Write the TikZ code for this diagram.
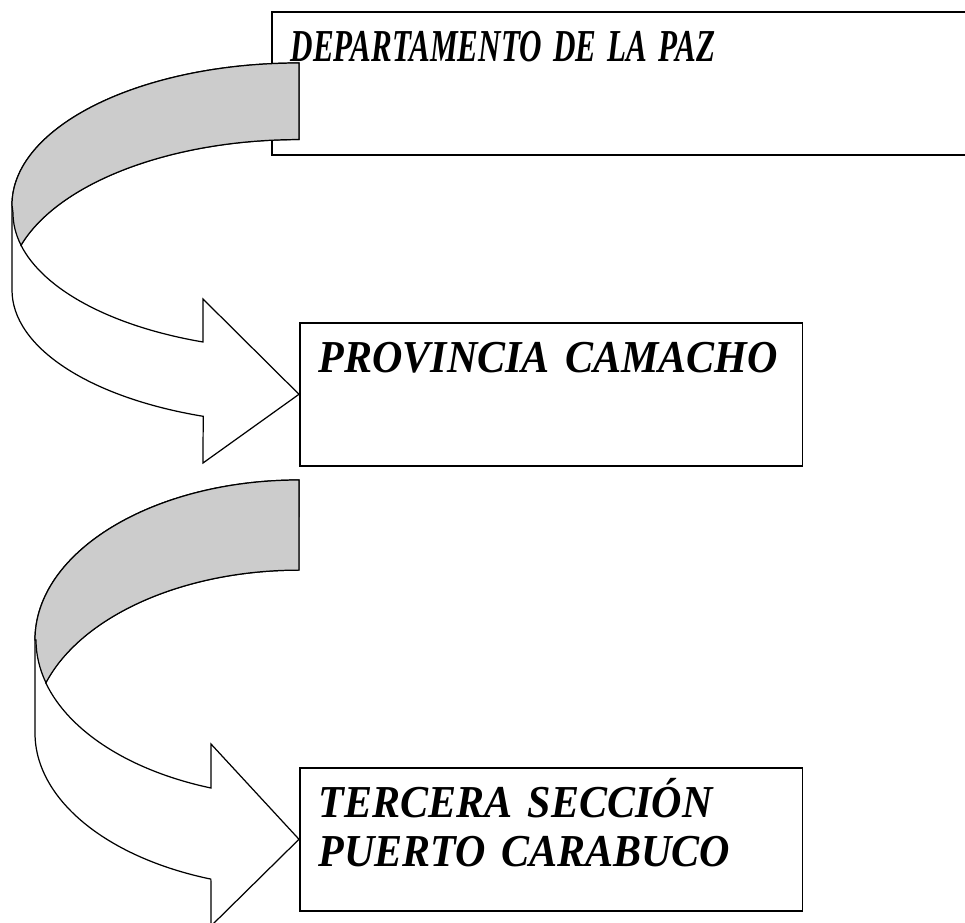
\documentclass[tikz,border=0pt]{standalone}
\usepackage{fontspec}
\setmainfont{Liberation Serif}
\newfontfamily\boxfont{Liberation Serif}[FakeStretch=0.92]
\usepackage{graphicx}
\usepackage{tikz}

\begin{document}
\begin{tikzpicture}[
  x=0.02cm, y=-0.02cm,
  level/.style={draw, line width=0.9pt, anchor=north west, inner xsep=0.38cm, inner ysep=0pt,
    text height=1cm, text depth=1.86cm, align=left,
    font=\boxfont\fontsize{26}{27.8}\selectfont\bfseries\itshape},
  band/.style={draw, line width=0.7pt, fill=white},
  fold/.style={draw, line width=0.7pt, fill=black!20}
]
\useasboundingbox (0,0) rectangle (965,923);

% Boxes
\node[level, text width=13.8cm] (dep) at (271,11) {\scalebox{0.74}[1]{DEPARTAMENTO DE LA PAZ}};
\node[level, text width=9.3cm] (prov) at (299,322) {PROVINCIA CAMACHO};
\node[level, text width=9.3cm] (secc) at (299,767) {TERCERA SECCIÓN\\PUERTO CARABUCO};

% Curved arrow: departamento -> provincia
\path[band] (299,63) arc[start angle=270, end angle=180, x radius=287, y radius=142]
  -- (12,290) arc[start angle=180, end angle=109.5, x radius=287, y radius=134]
  -- (203,463) -- (prov.west) -- (203,299) -- (203,342)
  arc[start angle=109.6, end angle=166.4, x radius=286, y radius=137]
  arc[start angle=197.2, end angle=270, x radius=291, y radius=150] -- cycle;
\path[fold] (299,63) arc[start angle=270, end angle=180, x radius=287, y radius=142]
  -- (13,213) arc[start angle=180, end angle=166.4, x radius=286, y radius=137]
  arc[start angle=197.2, end angle=270, x radius=291, y radius=150] -- cycle;

% Curved arrow: provincia -> seccion
\path[band] (299,480) arc[start angle=270, end angle=180, x radius=264, y radius=160]
  -- (35,733) arc[start angle=180, end angle=109.5, x radius=264, y radius=155]
  -- (211,926) -- (secc.west) -- (211,744) -- (211,788)
  arc[start angle=109.5, end angle=164.2, x radius=263, y radius=157]
  arc[start angle=198, end angle=270, x radius=266, y radius=163] -- cycle;
\path[fold] (299,480) arc[start angle=270, end angle=180, x radius=264, y radius=160]
  -- (36,640) arc[start angle=180, end angle=164.2, x radius=263, y radius=157]
  arc[start angle=198, end angle=270, x radius=266, y radius=163] -- cycle;

\end{tikzpicture}
\end{document}
